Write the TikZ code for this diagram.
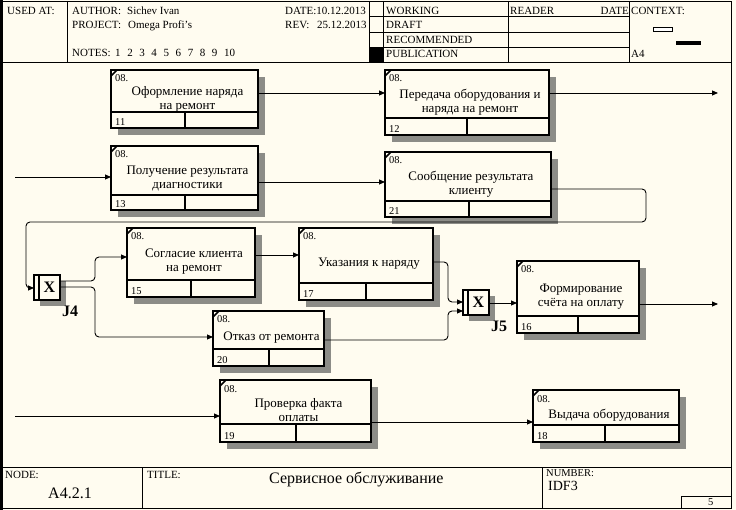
\documentclass[tikz,border=0pt]{standalone}
\usepackage{fontspec}
\setmainfont{Liberation Serif}
\usetikzlibrary{arrows.meta,calc}
\definecolor{bg}{RGB}{255,252,240}
\definecolor{shadowgray}{RGB}{140,140,135}
\newcommand\myfs[1]{\fontsize{#1}{#1}\selectfont}
\newcommand\nsp{\hspace{6.6pt}}
\tikzset{
  ubox/.style={draw, line width=2pt, fill=bg, inner sep=0pt, outer sep=0pt, anchor=north west},
  jbox/.style={draw, line width=1.8pt, fill=bg, inner sep=0pt, outer sep=0pt, anchor=north west},
  shadowbox/.style={fill=shadowgray, draw=none},
  udiv/.style={line width=2pt},
  corner/.style={line width=1.5pt},
  conn/.style={line width=0.9pt, rounded corners=4pt},
  arr/.style={conn, -{Triangle[length=6pt,width=5pt]}},
  frame/.style={line width=0.8pt},
  small/.style={font=\myfs{10.5}, inner sep=0pt, anchor=base west},
  hdr/.style={font=\myfs{11}, inner sep=0pt, anchor=base west},
  btext/.style={font=\fontsize{13}{14}\selectfont, align=center, inner sep=0pt},
  jtext/.style={font=\bfseries\myfs{16}, inner sep=0pt},
  jlabel/.style={font=\bfseries\myfs{16}, inner sep=0pt, anchor=base west},
}
\newcommand\ubox[9]{%
  \fill[shadowbox] ({#2+7},{#3+7}) rectangle ({#4+7},{#5+7});
  \node[ubox, minimum width={#4-#2}, minimum height={#5-#3}] (#1) at (#2,#3) {};
  \draw[udiv] (#1.west |- 0,#6) -- (#1.east |- 0,#6);
  \draw[udiv] (#7,#6) -- (#7,#5);
  \draw[corner] ($(#1.north west)+(0,6)$) -- ($(#1.north west)+(6,0)$);
  \node[small] (#1-c) at ($(#1.north west)+(4,12)$) {08.};
  \node[small] (#1-n) at ($(#1.south west)+(4,-2.5)$) {#8};
  \node[btext] (#1-t) at ({(#2+#4)/2+3},{(#3+#6)/2+8}) {#9};
}
\newcommand\junc[5]{%
  \fill[shadowbox] ({#2+6},{#3+6}) rectangle ({#4+6},{#5+6});
  \node[jbox, minimum width={#4-#2}, minimum height={#5-#3}] (#1) at (#2,#3) {};
  \draw[line width=1.5pt] ({#2+5},#3) -- ({#2+5},#5);
  \node[jtext] (#1-x) at ({(#2+5+#4)/2},{(#3+#5)/2}) {X};
}
\begin{document}
\begin{tikzpicture}[x=1pt,y=-1pt]
\useasboundingbox (0,0) rectangle (736,510);
\fill[bg] (0,0) rectangle (736,510);
% frame
\draw[frame] (2,1) rectangle (731,508);
\draw[line width=3pt] (1.5,0) -- (1.5,510);
% header
\draw[frame] (2,62) -- (731,62);
\draw[frame] (67,1) -- (67,62);
\draw[frame] (369,1) -- (369,62);
\draw[frame] (383,1) -- (383,62);
\draw[frame] (508,1) -- (508,62);
\draw[frame] (629,1) -- (629,62);
\draw[frame] (369,16) -- (629,16);
\draw[frame] (369,32) -- (629,32);
\draw[frame] (369,47) -- (629,47);
\fill[black] (369,47) rectangle (383,62);
\draw[line width=0.8pt, fill=white] (653,27) rectangle (672,31);
\fill[black] (676,41) rectangle (701,45);
\node[hdr] (usedat) at (7,15) {USED AT:};
\node[hdr] (author) at (72,15) {AUTHOR:};
\node[hdr] (authorv) at (127,15) {Sichev Ivan};
\node[hdr] (project) at (72,29) {PROJECT:};
\node[hdr] (projectv) at (128,29) {Omega Profi's};
\node[hdr] (notes) at (72,57) {NOTES:\hspace{4.5pt}1\nsp 2\nsp 3\nsp 4\nsp 5\nsp 6\nsp 7\nsp 8\nsp 9\nsp 10};
\begin{scope}
\clip (67,1) rectangle (368.5,62);
\node[hdr] (date) at (285,15) {DATE:10.12.2013};
\node[hdr] (rev) at (285,29) {REV:};
\node[hdr] (revv) at (317,29) {25.12.2013};
\end{scope}
\node[hdr] (working) at (386,15) {WORKING};
\node[hdr] (draft) at (386,29) {DRAFT};
\node[hdr] (recom) at (386,44) {RECOMMENDED};
\node[hdr] (publ) at (386,58) {PUBLICATION};
\node[hdr] (reader) at (510,15) {READER};
\node[hdr, anchor=base east] (rdate) at (629,15) {DATE};
\node[hdr] (context) at (631,15) {CONTEXT:};
\node[hdr] (a4) at (631,58) {A4};
% footer
\draw[frame] (2,467) -- (731,467);
\draw[frame] (142,467) -- (142,508);
\draw[frame] (542,467) -- (542,508);
\draw[frame] (681,496) rectangle (731,508);
\node[hdr] (nodel) at (5,478) {NODE:};
\node[font=\myfs{16}, inner sep=0pt, anchor=base west] (nodev) at (48,498) {A4.2.1};
\node[hdr] (titlel) at (147,478) {TITLE:};
\node[font=\myfs{16}, inner sep=0pt, anchor=base west] (titlev) at (269,483) {Сервисное обслуживание};
\node[font=\myfs{10.5}, inner sep=0pt, anchor=base west] (numl) at (546,476) {NUMBER:};
\node[font=\myfs{14}, inner sep=0pt, anchor=base west] (numv) at (548,490) {IDF3};
\node[small] (page) at (708,505) {5};
% boxes
\ubox{b11}{111}{70}{258}{128}{112}{185}{11}{Оформление наряда\\на ремонт}
\ubox{b13}{111}{146}{258}{210}{195}{185}{13}{Получение результата\\диагностики}
\ubox{b12}{385}{70}{549}{135}{118}{467}{12}{Передача оборудования и\\наряда на ремонт}
\ubox{b21}{385}{152}{551}{217}{201}{469}{21}{Сообщение результата\\клиенту}
\ubox{b15}{127}{228}{255}{297}{280}{191}{15}{Согласие клиента\\на ремонт}
\ubox{b17}{299}{228}{433}{300}{283}{366}{17}{Указания к наряду}
\ubox{b20}{213}{311}{324}{366}{349}{269}{20}{Отказ от ремонта}
\ubox{b16}{517}{261}{639}{333}{316}{578}{16}{Формирование\\счёта на оплату}
\ubox{b19}{220}{380}{371}{442}{424}{296}{19}{Проверка факта\\оплаты}
\ubox{b18}{533}{390}{679}{442}{425}{605}{18}{Выдача оборудования}
% junctions
\junc{J4}{34}{275}{60}{300}
\junc{J5}{463}{290}{489}{315}
\node[jlabel] (J4l) at (62,317) {J4};
\node[jlabel] (J5l) at (491,332) {J5};
% connectors
\coordinate (in13) at (15,177);
\coordinate (in19) at (15,416);
\coordinate (out12) at (718,93);
\coordinate (out16) at (718,304);
\draw[arr] (b11.east |- 0,93) -- (b12.west |- 0,93);
\draw[arr] (b12.east |- out12) -- (out12);
\draw[arr] (in13) -- (b13.west |- in13);
\draw[arr] (b13.east |- 0,182) -- (b21.west |- 0,182);
\draw[arr] (b21.east |- 0,189) -- (646,189) -- (646,222) -- (26,222) -- (26,288) -- (J4.west |- 0,288);
\draw[arr] (J4.east |- 0,281) -- (95,281) -- (95,257) -- (b15.west |- 0,257);
\draw[arr] (J4.east |- 0,287) -- (95,287) -- (95,337) -- (b20.west |- 0,337);
\draw[arr] (b15.east |- 0,255) -- (b17.west |- 0,255);
\draw[arr] (b17.east |- 0,262) -- (448,262) -- (448,302) -- (J5.west |- 0,302);
\draw[arr] (b20.east |- 0,340) -- (448,340) -- (448,311) -- (J5.west |- 0,311);
\draw[arr] (J5.east |- 0,303) -- (b16.west |- 0,303);
\draw[arr] (b16.east |- out16) -- (out16);
\draw[arr] (in19) -- (b19.west |- in19);
\draw[arr] (b19.east |- 0,422) -- (b18.west |- 0,422);
\end{tikzpicture}
\end{document}
